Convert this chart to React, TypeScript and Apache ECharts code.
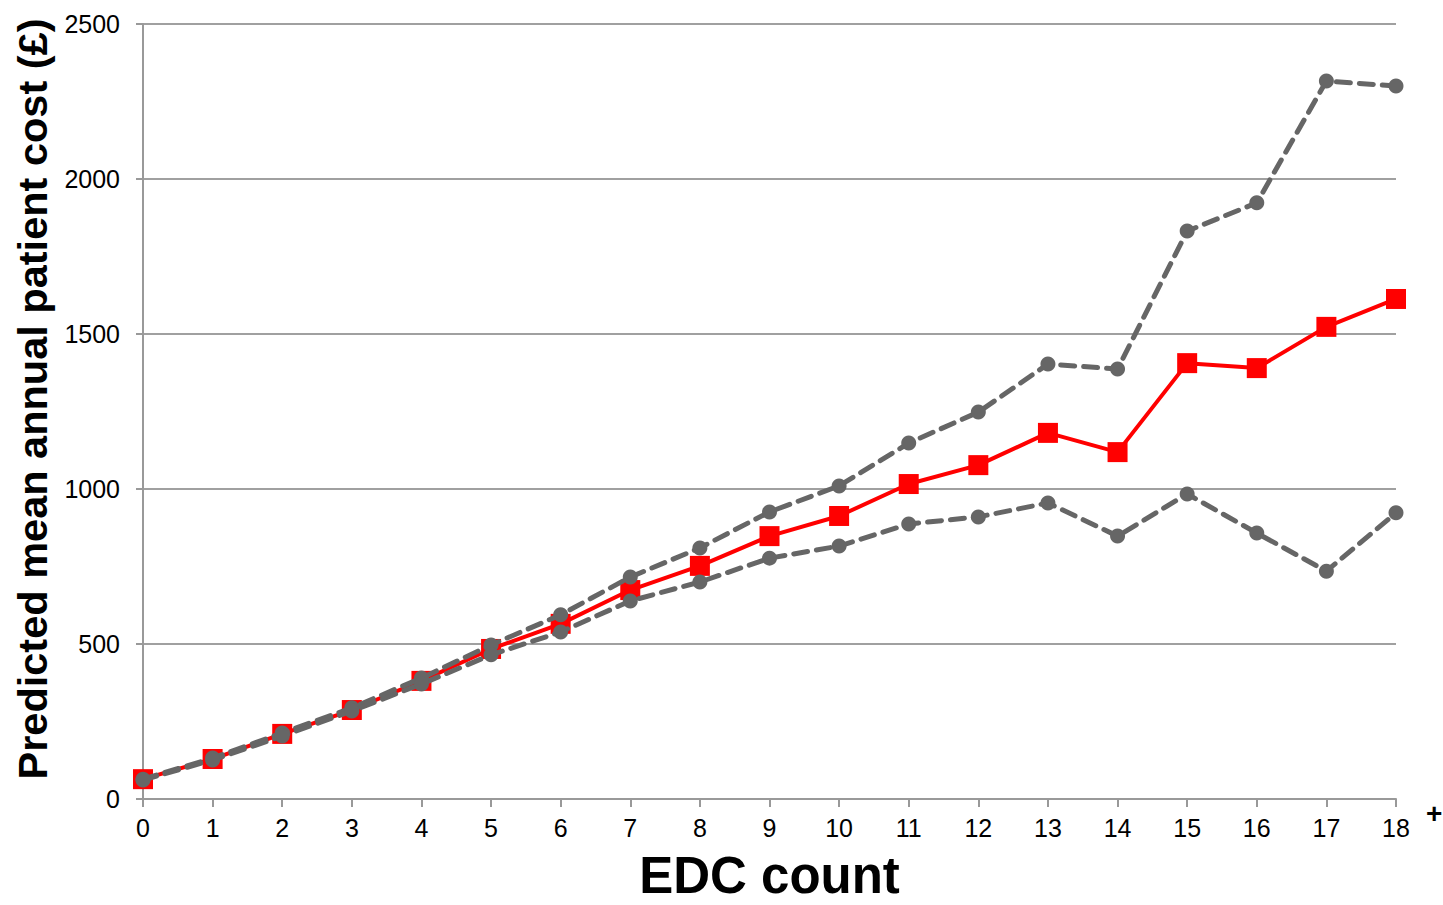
import React, { useEffect, useRef } from "react";
import * as echarts from "echarts";

const categories = ["0","1","2","3","4","5","6","7","8","9","10","11","12","13","14","15","16","17","18"];
const meanCost = [64,129,210,287,381,484,565,674,752,848,913,1016,1077,1181,1119,1406,1390,1523,1613];
const upperCost = [64,132,213,294,390,497,594,716,810,926,1010,1148,1248,1403,1387,1832,1923,2316,2300];
const lowerCost = [61,126,203,284,371,465,539,639,700,777,816,887,910,955,848,984,858,735,923];
const yTitle = "Predicted mean annual patient cost (£)";
const xTitle = "EDC count";

const FONT = "'Liberation Sans', Arial, sans-serif";

export default function App() {
  const ref = useRef<HTMLDivElement>(null);
  useEffect(() => {
    if (!ref.current) return;
    const chart = echarts.init(ref.current, null, { renderer: "svg" });
    const dashed = (name: string, data: number[]) => ({
      name,
      type: "line",
      data,
      symbol: "circle",
      symbolSize: 15,
      z: 4,
      itemStyle: { color: "#666666" },
      lineStyle: { color: "#666666", width: 5, type: [14, 9], cap: "round" },
    });
    chart.setOption({
      animation: false,
      backgroundColor: "#ffffff",
      textStyle: { fontFamily: FONT },
      grid: { left: 143, right: 47, top: 24, bottom: 106, containLabel: false, outerBoundsMode: "none" },
      xAxis: {
        type: "category",
        data: categories,
        boundaryGap: false,
        name: xTitle,
        nameLocation: "middle",
        nameGap: 51,
        nameTextStyle: { fontSize: 51, lineHeight: 50, fontWeight: "bold", color: "#000", fontFamily: FONT },
        axisLine: { lineStyle: { color: "#999999", width: 2 } },
        axisTick: { show: true, length: 8, lineStyle: { color: "#999999", width: 2 }, alignWithLabel: true },
        axisLabel: { fontSize: 25, color: "#000", margin: 16, fontFamily: FONT },
        splitLine: { show: false },
      },
      yAxis: {
        type: "value",
        min: 0,
        max: 2500,
        interval: 500,
        axisLine: { show: true, lineStyle: { color: "#999999", width: 2 } },
        axisTick: { show: true, length: 7, lineStyle: { color: "#999999", width: 2 } },
        axisLabel: { fontSize: 25, color: "#000", margin: 23, fontFamily: FONT, formatter: (v: number) => String(v) },
        splitLine: { show: true, lineStyle: { color: "#a0a0a0", width: 2 } },
      },
      graphic: [
        {
          type: "text",
          x: 32,
          y: 399,
          rotation: Math.PI / 2,
          style: {
            text: yTitle,
            font: "bold 41.5px " + FONT,
            fill: "#000",
            align: "center",
            verticalAlign: "middle",
          },
        },
        {
          type: "text",
          x: 1426,
          y: 813,
          style: {
            text: "+",
            font: "bold 28px " + FONT,
            fill: "#000",
            align: "left",
            verticalAlign: "middle",
          },
        },
      ],
      series: [
        {
          name: "Mean",
          type: "line",
          data: meanCost,
          symbol: "rect",
          symbolSize: 20,
          z: 3,
          itemStyle: { color: "#ff0000" },
          lineStyle: { color: "#ff0000", width: 4 },
        },
        dashed("Upper", upperCost),
        dashed("Lower", lowerCost),
      ],
    });
    return () => chart.dispose();
  }, []);
  return <div ref={ref} style={{ position: "fixed", left: 0, top: 0, width: 1443, height: 905 }} />;
}
